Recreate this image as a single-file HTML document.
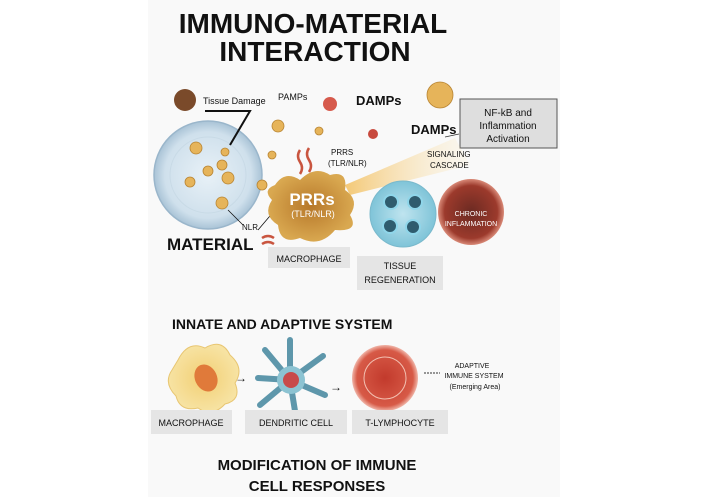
<!DOCTYPE html>
<html><head><meta charset="utf-8"><style>
html,body{margin:0;padding:0;background:#fff;}
svg{display:block;font-family:"Liberation Sans",sans-serif;}
</style></head><body>
<svg width="706" height="497" viewBox="0 0 706 497" xmlns="http://www.w3.org/2000/svg">
<defs>
<radialGradient id="mat" cx="50%" cy="50%" r="50%"><stop offset="0" stop-color="#e8f1f7"/><stop offset="0.8" stop-color="#cfe0ec"/><stop offset="1" stop-color="#a9c3d6"/></radialGradient>
<radialGradient id="mac" cx="50%" cy="50%" r="50%"><stop offset="0" stop-color="#b7782a"/><stop offset="1" stop-color="#d9a850"/></radialGradient>
<radialGradient id="reg" cx="50%" cy="50%" r="50%"><stop offset="0" stop-color="#bfe4ef"/><stop offset="1" stop-color="#7fc4d8"/></radialGradient>
<radialGradient id="chr" cx="50%" cy="50%" r="50%"><stop offset="0" stop-color="#6b2a22"/><stop offset="0.8" stop-color="#9c3a2c"/><stop offset="1" stop-color="#d98a78"/></radialGradient>
<radialGradient id="tl" cx="50%" cy="50%" r="50%"><stop offset="0" stop-color="#c23a2c"/><stop offset="0.85" stop-color="#d75a47"/><stop offset="1" stop-color="#f0b5a8"/></radialGradient>
<radialGradient id="ym" cx="50%" cy="50%" r="50%"><stop offset="0" stop-color="#f2cf74"/><stop offset="1" stop-color="#f7e3a3"/></radialGradient>
<linearGradient id="ray" x1="0" y1="0" x2="1" y2="0"><stop offset="0" stop-color="#f2b84a"/><stop offset="1" stop-color="#fbe9bf" stop-opacity="0.2"/></linearGradient>
</defs>
<rect x="148" y="0" width="412" height="497" fill="#f9f9f9"/>
<text x="313" y="33" font-size="28" font-weight="bold" text-anchor="middle" fill="#111">IMMUNO-MATERIAL</text>
<text x="315" y="61" font-size="28" font-weight="bold" text-anchor="middle" fill="#111">INTERACTION</text>

<circle cx="208" cy="175" r="54" fill="url(#mat)" stroke="#9ab6cb" stroke-width="1.5"/>
<circle cx="208" cy="175" r="38" fill="none" stroke="#c8dae6" stroke-width="1"/>
<g fill="#e6b45a" stroke="#b88432" stroke-width="0.8">
<circle cx="196" cy="148" r="6"/><circle cx="225" cy="152" r="4"/><circle cx="222" cy="165" r="5"/><circle cx="208" cy="171" r="5"/><circle cx="228" cy="178" r="6"/><circle cx="190" cy="182" r="5"/><circle cx="222" cy="203" r="6"/><circle cx="262" cy="185" r="5"/>
<circle cx="278" cy="126" r="6"/><circle cx="319" cy="131" r="4"/><circle cx="272" cy="155" r="4"/><circle cx="440" cy="95" r="13"/></g>
<circle cx="185" cy="100" r="11" fill="#7a4a2a"/>
<text x="203" y="104" font-size="9" fill="#111">Tissue Damage</text>
<polyline points="205,111 250,111 230,145" fill="none" stroke="#111" stroke-width="2"/>
<text x="167" y="250" font-size="17" font-weight="bold" fill="#111">MATERIAL</text>
<text x="242" y="230" font-size="8" fill="#111">NLR</text>
<line x1="228" y1="210" x2="243" y2="225" stroke="#111" stroke-width="0.8"/>
<line x1="258" y1="230" x2="275" y2="210" stroke="#111" stroke-width="0.8"/>

<text x="278" y="100" font-size="9" fill="#111">PAMPs</text>
<circle cx="330" cy="104" r="7" fill="#d65a4c"/>
<circle cx="373" cy="134" r="5" fill="#c84a3e"/>
<text x="356" y="105" font-size="13" font-weight="bold" fill="#111">DAMPs</text>
<text x="411" y="134" font-size="13" font-weight="bold" fill="#111">DAMPs</text>
<rect x="460" y="99" width="97" height="49" fill="#dedede" stroke="#555" stroke-width="1"/>
<text x="508" y="116" font-size="10" text-anchor="middle" fill="#111">NF-kB and</text>
<text x="508" y="129" font-size="10" text-anchor="middle" fill="#111">Inflammation</text>
<text x="508" y="142" font-size="10" text-anchor="middle" fill="#111">Activation</text>
<line x1="459" y1="134" x2="445" y2="137" stroke="#333" stroke-width="0.8"/>
<polygon points="345,185 455,138 470,165 350,195" fill="url(#ray)" opacity="0.75"/>
<text x="427" y="157" font-size="8" fill="#111">SIGNALING</text>
<text x="430" y="168" font-size="8" fill="#111">CASCADE</text>

<path d="M275,185 Q285,170 300,180 Q315,165 330,175 Q348,170 345,190 Q360,200 350,215 Q360,232 335,230 Q320,248 300,238 Q280,245 278,225 Q262,215 272,200 Q262,190 275,185Z" fill="url(#mac)"/>
<text x="312" y="205" font-size="17" font-weight="bold" text-anchor="middle" fill="#fff">PRRs</text>
<text x="313" y="217" font-size="9" text-anchor="middle" fill="#fff">(TLR/NLR)</text>
<text x="331" y="155" font-size="8" fill="#111">PRRS</text>
<text x="328" y="166" font-size="8" fill="#111">(TLR/NLR)</text>
<path d="M300,150 q-4,6 0,12 q4,6 0,12 M309,148 q-4,6 0,12 q4,6 0,12" fill="none" stroke="#c9553f" stroke-width="2.5"/>
<path d="M262,238 q6,-4 12,0 M262,244 q6,-4 12,0" fill="none" stroke="#c9553f" stroke-width="2.5"/>
<rect x="268" y="247" width="82" height="21" fill="#e5e5e5"/>
<text x="309" y="262" font-size="9" text-anchor="middle" fill="#111">MACROPHAGE</text>

<circle cx="403" cy="214" r="33" fill="url(#reg)" stroke="#7ab9cc"/>
<g fill="#2f5c6e" stroke="#8fd6ea" stroke-width="2"><circle cx="391" cy="202" r="7"/><circle cx="415" cy="202" r="7"/><circle cx="390" cy="226" r="7"/><circle cx="413" cy="227" r="7"/></g>
<rect x="357" y="256" width="86" height="34" fill="#e5e5e5"/>
<text x="400" y="269" font-size="9" text-anchor="middle" fill="#111">TISSUE</text>
<text x="400" y="283" font-size="9" text-anchor="middle" fill="#111">REGENERATION</text>
<circle cx="471" cy="212" r="33" fill="url(#chr)"/>
<text x="471" y="216" font-size="7" text-anchor="middle" fill="#fff">CHRONIC</text>
<text x="471" y="226" font-size="7" text-anchor="middle" fill="#fff">INFLAMMATION</text>

<text x="172" y="329" font-size="14" font-weight="bold" fill="#111">INNATE AND ADAPTIVE SYSTEM</text>
<path d="M178,360 Q188,340 205,348 Q222,338 230,355 Q245,368 235,383 Q242,400 225,404 Q212,418 198,408 Q180,412 176,396 Q163,383 172,370 Z" fill="url(#ym)" stroke="#e8c672"/>
<ellipse cx="206" cy="378" rx="11" ry="14" fill="#e07a3a" transform="rotate(-25 206 378)"/>
<text x="235" y="382" font-size="12" fill="#111">→</text>
<g stroke="#5e97ab" stroke-width="6" stroke-linecap="round"><line x1="290" y1="380" x2="290" y2="340"/><line x1="290" y1="380" x2="323" y2="356"/><line x1="290" y1="380" x2="325" y2="395"/><line x1="290" y1="380" x2="295" y2="411"/><line x1="290" y1="380" x2="260" y2="405"/><line x1="290" y1="380" x2="258" y2="378"/><line x1="290" y1="380" x2="265" y2="350"/></g>
<circle cx="291" cy="380" r="14" fill="#8cc3d2"/>
<circle cx="291" cy="380" r="8" fill="#c84a4a"/>
<text x="330" y="391" font-size="12" fill="#111">→</text>
<circle cx="385" cy="378" r="33" fill="url(#tl)"/>
<circle cx="385" cy="378" r="21" fill="none" stroke="#f3c1b2" stroke-width="1"/>
<line x1="424" y1="373" x2="440" y2="373" stroke="#333" stroke-dasharray="2,1"/>
<text x="472" y="368" font-size="7" text-anchor="middle" fill="#111">ADAPTIVE</text>
<text x="474" y="378" font-size="7" text-anchor="middle" fill="#111">IMMUNE SYSTEM</text>
<text x="475" y="389" font-size="7" text-anchor="middle" fill="#111">(Emerging Area)</text>
<rect x="151" y="410" width="81" height="24" fill="#e5e5e5"/>
<rect x="245" y="410" width="102" height="24" fill="#e5e5e5"/>
<rect x="352" y="410" width="96" height="24" fill="#e5e5e5"/>
<text x="191" y="426" font-size="9" text-anchor="middle" fill="#111">MACROPHAGE</text>
<text x="296" y="426" font-size="9" text-anchor="middle" fill="#111">DENDRITIC CELL</text>
<text x="400" y="426" font-size="9" text-anchor="middle" fill="#111">T-LYMPHOCYTE</text>
<text x="317" y="470" font-size="15" font-weight="bold" text-anchor="middle" fill="#111">MODIFICATION OF IMMUNE</text>
<text x="317" y="491" font-size="15" font-weight="bold" text-anchor="middle" fill="#111">CELL RESPONSES</text>
</svg>
</body></html>
